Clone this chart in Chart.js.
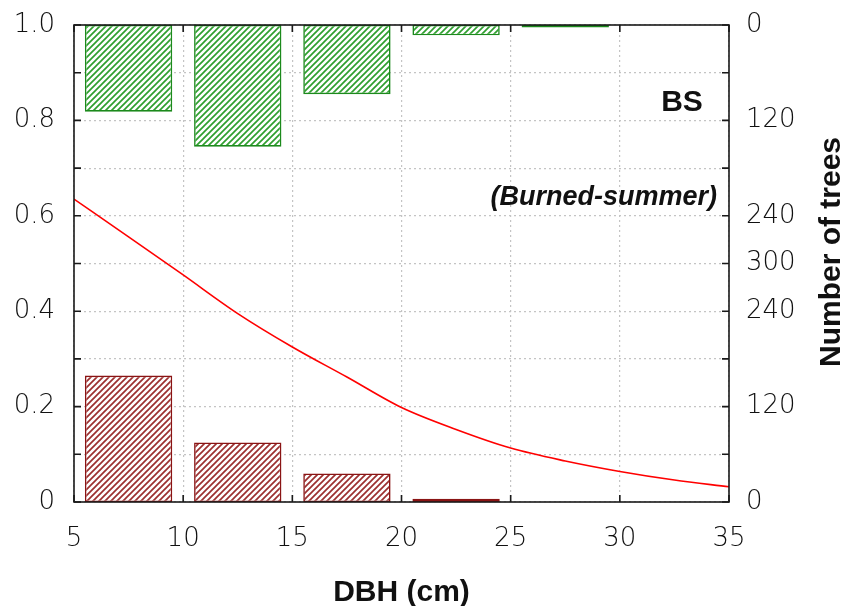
<!DOCTYPE html>
<html>
<head>
<meta charset="utf-8">
<script src="https://cdn.jsdelivr.net/npm/chart.js@4.4.1/dist/chart.umd.min.js"></script>
<style>
  html, body { margin: 0; padding: 0; background: #fff; }
  #wrap { width: 850px; height: 606px; }
</style>
</head>
<body>
<div id="wrap"><canvas id="grafico" width="850" height="606"></canvas></div>
<script>
// classes de DBH (centro de cada classe, cm)
const binCenters = [7.5, 12.5, 17.5, 22.5, 27.5];
// barras verdes (penduradas no topo) e vermelhas (a partir da base), nº de árvores
const topBarCounts = [109, 153, 87, 13, 3];
const bottomBarCounts = [159, 75, 36, 4, 0];

// curva ajustada
const curveDbh = [5, 7.5, 10, 12.5, 15, 17.5, 20, 22.5, 25, 27.5, 30, 32.5, 35];
const curveProb = [0.635, 0.556, 0.476, 0.395, 0.325, 0.262, 0.198, 0.152, 0.113, 0.086, 0.064, 0.046, 0.032];

// rótulos dos eixos
const leftTickValues = [0, 0.2, 0.4, 0.6, 0.8, 1.0];
const leftTickLabels = ['0', '0.2', '0.4', '0.6', '0.8', '1.0'];
const rightTickValues = [0, 0.2, 0.4, 0.5, 0.6, 0.8, 1.0];
const rightTickLabels = ['0', '120', '240', '300', '240', '120', '0'];
const maxTrees = 600;

function hachura(linha, fundo) {
    const c = document.createElement('canvas');
    const s = 6;
    c.width = s; c.height = s;
    const g = c.getContext('2d');
    g.fillStyle = fundo;
    g.fillRect(0, 0, s, s);
    g.strokeStyle = linha;
    g.lineWidth = 1.7;
    g.beginPath();
    g.moveTo(-1, s + 1); g.lineTo(s + 1, -1);
    g.moveTo(-1, 1); g.lineTo(1, -1);
    g.moveTo(s - 1, s + 1); g.lineTo(s + 1, s - 1);
    g.stroke();
    return g.createPattern(c, 'repeat');
}

function rotulo(values, labels, v) {
    const i = values.findIndex(t => Math.abs(t - v) < 1e-6);
    return i >= 0 ? labels[i] : '';
}

// sem folga extra dos rótulos: a área do gráfico fica onde a gente quer
function semFolga(s) {
    s.paddingTop = 0; s.paddingBottom = 0;
    s.paddingLeft = 0; s.paddingRight = 0;
}

const fonteTicks = { family: 'DejaVu Sans', size: 26, weight: 200 };
const corTicks = '#111';
const grade = { color: '#c4c4c4', lineWidth: 1.2, drawTicks: false };

const moldura = {
    id: 'moldura',
    afterDatasetsDraw(chart) {
        const { ctx, chartArea: a, scales } = chart;
        ctx.save();
        ctx.strokeStyle = '#1a1a1a';
        ctx.lineWidth = 1.6;
        ctx.strokeRect(a.left, a.top, a.right - a.left, a.bottom - a.top);
        ctx.beginPath();
        scales.y.ticks.forEach(t => {
            const py = scales.y.getPixelForValue(t.value);
            ctx.moveTo(a.left, py); ctx.lineTo(a.left + 7, py);
            ctx.moveTo(a.right, py); ctx.lineTo(a.right - 7, py);
        });
        scales.x.ticks.forEach(t => {
            const px = scales.x.getPixelForValue(t.value);
            ctx.moveTo(px, a.top); ctx.lineTo(px, a.top + 7);
            ctx.moveTo(px, a.bottom); ctx.lineTo(px, a.bottom - 7);
        });
        ctx.stroke();

        ctx.fillStyle = '#111';
        ctx.textAlign = 'right';
        ctx.textBaseline = 'alphabetic';
        ctx.font = 'bold 30px "Liberation Sans"';
        ctx.fillText('BS', scales.x.getPixelForValue(33.8), scales.y.getPixelForValue(0.82));
        ctx.font = 'italic bold 27px "Liberation Sans"';
        ctx.fillText('(Burned-summer)', scales.x.getPixelForValue(34.45), scales.y.getPixelForValue(0.623));

        ctx.textAlign = 'center';
        ctx.font = 'bold 30px "Liberation Sans"';
        ctx.fillText('DBH (cm)', (a.left + a.right) / 2, 601);
        ctx.translate(832, 252);
        ctx.rotate(-Math.PI / 2);
        ctx.textBaseline = 'middle';
        ctx.fillText('Number of trees', 0, 0);
        ctx.restore();
    }
};

new Chart(document.getElementById('grafico'), {
    type: 'bar',
    data: {
        datasets: [
            {
                type: 'line',
                data: curveDbh.map((x, i) => ({ x, y: curveProb[i] })),
                xAxisID: 'x',
                yAxisID: 'y',
                borderColor: '#ff0000',
                borderWidth: 1.6,
                pointRadius: 0,
                cubicInterpolationMode: 'monotone',
                fill: false
            },
            {
                data: binCenters.map((x, i) => ({ x, y: topBarCounts[i] })),
                yAxisID: 'yTop',
                backgroundColor: hachura('#2f9f2f', '#ffffff'),
                borderColor: '#1c8a1c',
                borderWidth: 1.6,
                borderSkipped: false,
                grouped: false,
                barPercentage: 0.8,
                categoryPercentage: 1.0
            },
            {
                data: binCenters.map((x, i) => ({ x, y: bottomBarCounts[i] || null })),
                yAxisID: 'yBottom',
                backgroundColor: hachura('#9c3030', '#ffffff'),
                borderColor: '#8a1414',
                borderWidth: 1.6,
                borderSkipped: false,
                grouped: false,
                barPercentage: 0.8,
                categoryPercentage: 1.0
            }
        ]
    },
    options: {
        responsive: false,
        animation: false,
        layout: { padding: { top: 25, left: 0, right: 0, bottom: 0 } },
        plugins: { legend: { display: false }, tooltip: { enabled: false } },
        scales: {
            x: {
                type: 'linear',
                min: 5, max: 35,
                offset: false,
                ticks: { stepSize: 5, font: fonteTicks, color: corTicks, padding: 22, maxRotation: 0 },
                grid: { ...grade, offset: false },
                border: { display: false, dash: [2, 3] },
                afterFit: s => { s.height = 104; semFolga(s); }
            },
            y: {
                position: 'left',
                min: 0, max: 1,
                ticks: {
                    stepSize: 0.1, font: fonteTicks, color: corTicks, padding: 19,
                    callback: v => rotulo(leftTickValues, leftTickLabels, v)
                },
                grid: grade,
                border: { display: false, dash: [2, 3] },
                afterFit: s => { s.width = 74; semFolga(s); }
            },
            yRight: {
                position: 'right',
                min: 0, max: 1,
                afterBuildTicks: s => { s.ticks = rightTickValues.map(v => ({ value: v })); },
                ticks: {
                    font: fonteTicks, color: corTicks, padding: 17,
                    callback: v => rotulo(rightTickValues, rightTickLabels, v)
                },
                grid: { drawOnChartArea: false, drawTicks: false },
                border: { display: false },
                afterFit: s => { s.width = 121; semFolga(s); }
            },
            yTop: { display: false, min: 0, max: maxTrees, reverse: true },
            yBottom: { display: false, min: 0, max: maxTrees }
        }
    },
    plugins: [moldura]
});
</script>
</body>
</html>
